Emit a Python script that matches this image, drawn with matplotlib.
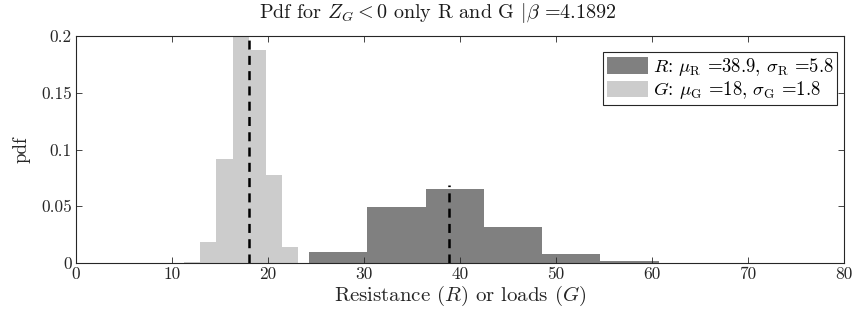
import numpy as np
import matplotlib
matplotlib.use("Agg")
import matplotlib.pyplot as plt

# ---- data ----
g_edges = [11.22, 12.93, 14.64, 16.35, 18.06, 19.77, 21.48, 23.19]
g_pdf = [0.0012, 0.0188, 0.0914, 0.199, 0.1877, 0.0771, 0.0138]
r_edges = [24.30, 30.37, 36.44, 42.51, 48.58, 54.65, 60.72]
r_pdf = [0.0094, 0.0496, 0.0649, 0.0320, 0.0082, 0.0015]
mu_R, sigma_R = 38.9, 5.8
mu_G, sigma_G = 18.0, 1.8
beta = 4.1892
x_ticks = [0, 10, 20, 30, 40, 50, 60, 70, 80]
y_ticks = [0, 0.05, 0.1, 0.15, 0.2]
y_ticklabels = ["0", "0.05", "0.1", "0.15", "0.2"]

plt.rcParams["font.family"] = "serif"
plt.rcParams["font.serif"] = ["cmr10", "DejaVu Serif"]
plt.rcParams["mathtext.fontset"] = "cm"
plt.rcParams["axes.formatter.use_mathtext"] = True
plt.rcParams["lines.scale_dashes"] = False

fig = plt.figure(figsize=(8.53, 3.18), dpi=100)
ax = fig.add_axes([76 / 853, 1 - 263 / 318, (843.5 - 76) / 853, (263 - 36) / 318])

r_col = "#808080"
g_col = "#cccccc"
ax.bar(r_edges[:-1], r_pdf, width=np.diff(r_edges), align="edge", color=r_col,
       edgecolor="none",
       label=r"$R$: $\mu_{\rm R}$ =38.9, $\sigma_{\rm R}$ =5.8")
ax.bar(g_edges[:-1], g_pdf, width=np.diff(g_edges), align="edge", color=g_col,
       edgecolor="none",
       label=r"$G$: $\mu_{\rm G}$ =18, $\sigma_{\rm G}$ =1.8")

peak_R = 1 / (np.sqrt(2 * np.pi) * sigma_R)
peak_G = 1 / (np.sqrt(2 * np.pi) * sigma_G)
for mu, pk in [(mu_R, peak_R), (mu_G, peak_G)]:
    ax.plot([mu, mu], [0, pk], color="black", lw=1.8, dashes=(6.5, 4.5))

ax.set_xlim(0, 80)
ax.set_ylim(0, 0.2)
ax.set_xticks(x_ticks)
ax.set_xticklabels([str(t) for t in x_ticks])
ax.set_yticks(y_ticks)
ax.set_yticklabels(y_ticklabels)
ax.tick_params(direction="in", top=True, right=True, labelsize=12.5, length=4,
               width=0.6, colors="#262626", labelcolor="#262626", pad=3)
for s in ax.spines.values():
    s.set_linewidth(0.8)
    s.set_color("#262626")

fig.text(437.5 / 853, 1 - 13 / 318,
         r"Pdf for $Z_G<0$ only R and G $|\beta$ =" + f"{beta}",
         fontsize=14.5, color="#1a1a1a", ha="center", va="center")
ax.set_xlabel(r"Resistance ($R$) or loads ($G$)", fontsize=15, color="#262626",
              labelpad=1)
ax.set_ylabel("pdf", fontsize=13.5, color="#262626", labelpad=8)

leg = ax.legend(loc="upper right", bbox_to_anchor=(0.9995, 0.955), fontsize=13.5,
                handlelength=2.2, handleheight=1.0, handletextpad=0.25,
                borderpad=0.2, labelspacing=0.1, borderaxespad=0.3,
                fancybox=False, framealpha=1, edgecolor="#262626")
leg.get_frame().set_linewidth(0.8)

fig.savefig("out.png", dpi=100)
